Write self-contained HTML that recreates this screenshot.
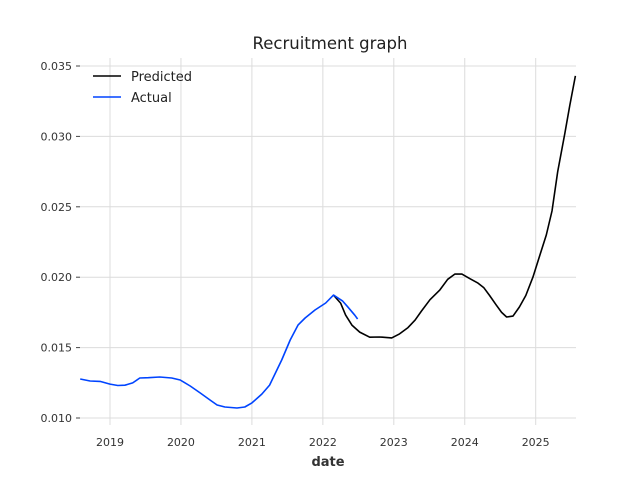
<!DOCTYPE html>
<html><head><meta charset="utf-8"><style>
body{margin:0;background:#fff;width:640px;height:480px;overflow:hidden}
text{font-family:"DejaVu Sans","Liberation Sans",sans-serif}
</style></head><body>
<svg id="chart" width="640" height="480" xmlns="http://www.w3.org/2000/svg">
<text x="330" y="49" text-anchor="middle" font-size="16.5" fill="#222">Recruitment graph</text>
<g id="grid"></g><g id="axes"></g><g id="series"></g>
<text x="328" y="466" text-anchor="middle" font-size="13" font-weight="bold" fill="#333">date</text>
<g>
<line x1="93" y1="76" x2="121" y2="76" stroke="#000" stroke-width="1.6"/>
<text x="131" y="81" font-size="13" fill="#222">Predicted</text>
<line x1="93" y1="97" x2="121" y2="97" stroke="#0044ff" stroke-width="1.6"/>
<text x="131" y="102" font-size="13" fill="#222">Actual</text>
</g>
</svg>
<script>
const xTicks=[2019,2020,2021,2022,2023,2024,2025];
const yTicks=[0.010,0.015,0.020,0.025,0.030,0.035];
const actualYears=[2018.58,2018.72,2018.86,2019.0,2019.11,2019.21,2019.32,2019.42,2019.54,2019.70,2019.87,2019.99,2020.13,2020.27,2020.41,2020.51,2020.62,2020.79,2020.90,2021.0,2021.14,2021.25,2021.42,2021.54,2021.65,2021.75,2021.89,2022.04,2022.15,2022.28,2022.35,2022.45,2022.49];
const actualValues=[0.01277,0.01263,0.01260,0.01241,0.01231,0.01233,0.01249,0.01284,0.01286,0.01291,0.01284,0.01270,0.01227,0.01178,0.01128,0.01092,0.01078,0.01071,0.01078,0.01107,0.01170,0.01234,0.01412,0.01554,0.01660,0.01710,0.01767,0.01817,0.01873,0.01830,0.01790,0.01730,0.01703];
const predYears=[2022.15,2022.25,2022.32,2022.41,2022.52,2022.66,2022.80,2022.97,2023.08,2023.20,2023.30,2023.39,2023.51,2023.65,2023.76,2023.86,2023.96,2024.07,2024.18,2024.27,2024.35,2024.44,2024.52,2024.59,2024.68,2024.77,2024.86,2024.96,2025.06,2025.15,2025.23,2025.31,2025.41,2025.48,2025.56];
const predValues=[0.01873,0.01816,0.01731,0.01660,0.01610,0.01574,0.01575,0.01569,0.01597,0.01642,0.01695,0.01760,0.01840,0.01910,0.01985,0.02022,0.02022,0.01990,0.01960,0.01925,0.01870,0.01805,0.01750,0.01717,0.01724,0.01788,0.01870,0.02000,0.02160,0.02300,0.02470,0.02750,0.03020,0.03220,0.03430];
const X0=80,X1=576,Y0=58,Y1=425;
const xs=y=>110+(y-2019)*70.95;
const ys=v=>418-(v-0.010)/0.005*70.4;
const NS='http://www.w3.org/2000/svg';
function mk(tag,attrs,parent){const e=document.createElementNS(NS,tag);for(const k in attrs)e.setAttribute(k,attrs[k]);parent.appendChild(e);return e;}
const grid=document.getElementById('grid'),axes=document.getElementById('axes'),ser=document.getElementById('series');
xTicks.forEach(t=>{const x=xs(t);
 const l=mk('line',{x1:x,x2:x,y1:Y0,y2:Y1,stroke:'#dcdcdc','stroke-width':1},grid);
 
 
 const tx=mk('text',{x:x,y:446,'text-anchor':'middle','font-size':11,fill:'#333'},axes);tx.textContent=t;
 
 
});
yTicks.forEach(t=>{const y=ys(t);
 const l=mk('line',{x1:X0,x2:X1,y1:y,y2:y,stroke:'#dcdcdc','stroke-width':1},grid);
 
 
 mk('line',{x1:76,x2:80,y1:y,y2:y,stroke:'#444','stroke-width':1},axes);
 const tx=mk('text',{x:72,y:y+4,'text-anchor':'end','font-size':11,fill:'#333'},axes);tx.textContent=t.toFixed(3);
 
 
});
function line(xa,va,color,name){const d=xa.map((x,i)=>(i?'L':'M')+xs(x).toFixed(1)+','+ys(va[i]).toFixed(1)).join('');
 const p=mk('path',{d:d,fill:'none',stroke:color,'stroke-width':1.6,'stroke-linejoin':'round'},ser);
 
 
}
line(predYears,predValues,'#000','predicted-line');
line(actualYears,actualValues,'#0044ff','actual-line');
</script>
</body></html>
